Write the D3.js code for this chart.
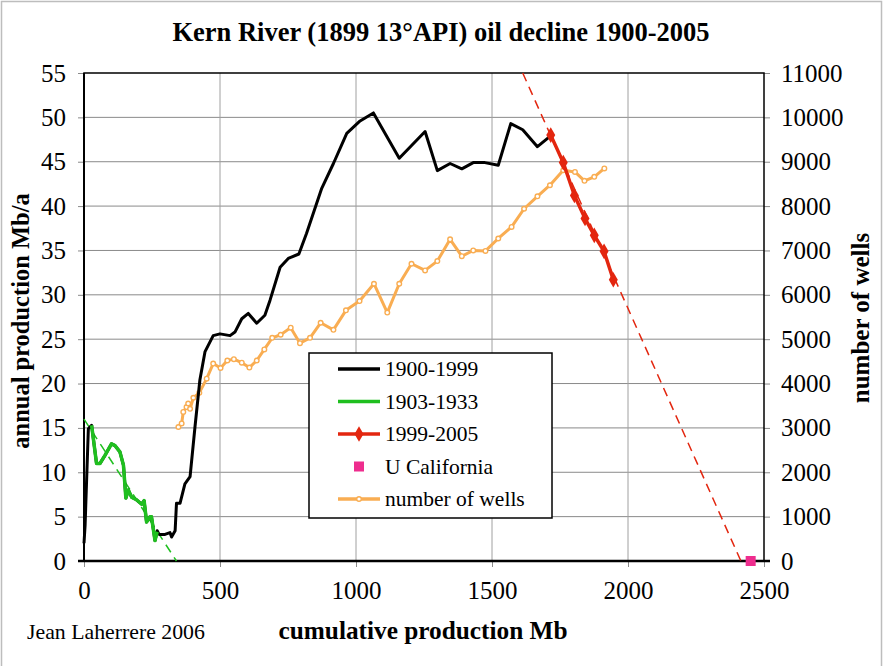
<!DOCTYPE html>
<html>
<head>
<meta charset="utf-8">
<script src="https://cdn.jsdelivr.net/npm/d3@7"></script>
<style>
body { margin: 0; background: #fff; }
svg { display: block; }
text { font-family: "Liberation Serif", "Times New Roman", serif; fill: #000; }
</style>
</head>
<body>
<svg id="chart" width="887" height="666"></svg>
<script>
// tick values
var xTicks = [0, 500, 1000, 1500, 2000, 2500];
var yTicks = [0, 5, 10, 15, 20, 25, 30, 35, 40, 45, 50, 55];
var wTicks = [0, 1000, 2000, 3000, 4000, 5000, 6000, 7000, 8000, 9000, 10000, 11000];

// [cumulative production Mb, annual production Mb/a]
var prod_1900_1999 = [[0, 2.0], [4, 4], [16, 14.9], [28, 15.3], [46, 11.0], [59, 11.0], [77, 11.9],
    [101, 13.2], [114, 13.0], [132, 12.3], [145, 10.8], [154, 7.1], [163, 8.0], [175, 7.2],
    [193, 6.9], [212, 6.4], [221, 6.8], [230, 4.4], [243, 5.0], [248, 5.0], [261, 2.3],
    [269, 3.4], [276, 3.0], [298, 3.0], [316, 3.2], [322, 2.7], [335, 3.4], [340, 6.5],
    [353, 6.5], [371, 8.7], [390, 9.5], [408, 15.1], [426, 20.4], [445, 23.6], [475, 25.4],
    [500, 25.6], [537, 25.4], [555, 25.8], [580, 27.3], [604, 27.9], [635, 26.8], [665, 27.7],
    [684, 29.4], [721, 33.1], [751, 34.1], [790, 34.6], [818, 36.9], [874, 42.0], [917, 44.8],
    [966, 48.2], [1015, 49.6], [1064, 50.5], [1159, 45.4], [1254, 48.4], [1299, 44.0],
    [1346, 44.8], [1389, 44.2], [1431, 44.9], [1474, 44.9], [1523, 44.6], [1569, 49.3],
    [1613, 48.6], [1667, 46.7], [1711, 47.8]];

var prod_1903_1933 = [[28, 15.3], [46, 11.0], [59, 11.0], [77, 11.9], [101, 13.2], [114, 13.0],
    [132, 12.3], [145, 10.8], [154, 7.1], [163, 8.0], [175, 7.2], [193, 6.9], [212, 6.4],
    [221, 6.8], [230, 4.4], [243, 5.0], [248, 5.0], [261, 2.3], [269, 3.3]];

var prod_1999_2005 = [[1716, 48.0], [1762, 44.9], [1803, 41.2], [1842, 38.6], [1876, 36.7],
    [1912, 34.9], [1946, 31.7]];

var trend_1903_1933 = [[0, 16], [340, 0]];
var trend_1999_2005 = [[1613, 55], [2415, 0]];
var u_california = [[2451, 0]];

// [cumulative production Mb, number of wells]
var wells = [[347, 3020], [359, 3100], [365, 3360], [377, 3470], [383, 3550], [390, 3430],
    [402, 3680], [424, 3790], [451, 4110], [475, 4450], [502, 4350], [527, 4520], [551, 4550],
    [580, 4470], [608, 4360], [635, 4520], [663, 4770], [692, 5030], [723, 5100], [760, 5260],
    [794, 4910], [831, 5030], [870, 5370], [917, 5210], [963, 5650], [1013, 5860], [1066, 6250],
    [1115, 5600], [1159, 6250], [1204, 6700], [1254, 6550], [1299, 6760], [1346, 7250],
    [1389, 6870], [1431, 7000], [1476, 6990], [1523, 7270], [1572, 7530], [1618, 7940],
    [1667, 8220], [1713, 8470], [1762, 8810], [1805, 8770], [1840, 8570], [1876, 8660],
    [1913, 8850]];

var legendNames = ["1900-1999", "1903-1933", "1999-2005", "U California", "number of wells"];

var black = "#000", green = "#1fbf1f", red = "#e3260f", orange = "#f9ad52", pink = "#ee2d8e";
var serif = "Liberation Serif, Times New Roman, serif";

var svg = d3.select("#chart");

var x = d3.scaleLinear().domain([0, 2500]).range([84, 764]),
    y = d3.scaleLinear().domain([0, 55]).range([561, 73]),
    y2 = d3.scaleLinear().domain([0, 11000]).range([561, 73]);

// outer frame of the picture
svg.append("rect")
    .attr("x", 1.5).attr("y", 1.5)
    .attr("width", 880).attr("height", 680)
    .attr("fill", "none")
    .attr("stroke", "#bdbdbd")
    .attr("stroke-width", 1.5);

// grid
svg.append("g").selectAll("line")
    .data(yTicks.slice(1, -1))
    .enter().append("line")
    .attr("x1", x(0)).attr("x2", x(2500))
    .attr("y1", function(d) { return y(d); })
    .attr("y2", function(d) { return y(d); })
    .attr("stroke", "#8a8a8a").attr("stroke-width", 1);

svg.append("g").selectAll("line")
    .data(xTicks.slice(1, -1))
    .enter().append("line")
    .attr("x1", function(d) { return x(d); })
    .attr("x2", function(d) { return x(d); })
    .attr("y1", y(55)).attr("y2", y(0))
    .attr("stroke", "#a0a0a0").attr("stroke-width", 1);

// axes
function styleAxis(g) {
    g.attr("font-family", serif).attr("font-size", 25);
    g.select(".domain").remove();
    g.selectAll(".tick line").attr("stroke", "#8a8a8a");
    g.selectAll(".tick text")
        .attr("font-family", serif)
        .style("font-family", serif)
        .attr("fill", "#000");
}

svg.append("g")
    .attr("transform", "translate(" + x(0) + ",0)")
    .call(d3.axisLeft(y).tickValues(yTicks).tickFormat(d3.format("d")).tickSize(6).tickPadding(12))
    .call(styleAxis);

svg.append("g")
    .attr("transform", "translate(" + x(2500) + ",0)")
    .call(d3.axisRight(y2).tickValues(wTicks).tickFormat(d3.format("d")).tickSize(6).tickPadding(11))
    .call(styleAxis);

svg.append("g")
    .attr("transform", "translate(0," + y(0) + ")")
    .call(d3.axisBottom(x).tickValues(xTicks).tickFormat(d3.format("d")).tickSize(6).tickPadding(14))
    .call(styleAxis);

// plot frame
svg.append("rect")
    .attr("x", x(0)).attr("y", y(55))
    .attr("width", x(2500) - x(0)).attr("height", y(0) - y(55))
    .attr("fill", "none").attr("stroke", "#000").attr("stroke-width", 1.5);
svg.append("line")
    .attr("x1", x(0)).attr("x2", x(0)).attr("y1", y(55)).attr("y2", y(0))
    .attr("stroke", "#000").attr("stroke-width", 2);
svg.append("line")
    .attr("x1", x(0) - 6).attr("x2", x(2500) + 6).attr("y1", y(0)).attr("y2", y(0))
    .attr("stroke", "#000").attr("stroke-width", 2.5);

var line = d3.line()
    .x(function(d) { return x(d[0]); })
    .y(function(d) { return y(d[1]); });
var lineW = d3.line()
    .x(function(d) { return x(d[0]); })
    .y(function(d) { return y2(d[1]); });

// trends
svg.append("path").datum(trend_1903_1933)
    .attr("d", line).attr("fill", "none")
    .attr("stroke", green).attr("stroke-width", 1.5).attr("stroke-dasharray", "9,6");
svg.append("path").datum(trend_1999_2005)
    .attr("d", line).attr("fill", "none")
    .attr("stroke", red).attr("stroke-width", 1.5).attr("stroke-dasharray", "9,6");

// wells
svg.append("path").datum(wells)
    .attr("d", lineW).attr("fill", "none")
    .attr("stroke", orange).attr("stroke-width", 3).attr("stroke-linejoin", "round");
svg.append("g").selectAll("circle")
    .data(wells)
    .enter().append("circle")
    .attr("cx", function(d) { return x(d[0]); })
    .attr("cy", function(d) { return y2(d[1]); })
    .attr("r", 2.3)
    .attr("fill", "#fff").attr("stroke", orange).attr("stroke-width", 1.4);

// production
svg.append("path").datum(prod_1900_1999)
    .attr("d", line).attr("fill", "none")
    .attr("stroke", black).attr("stroke-width", 3).attr("stroke-linejoin", "round");
svg.append("path").datum(prod_1903_1933)
    .attr("d", line).attr("fill", "none")
    .attr("stroke", green).attr("stroke-width", 3.5).attr("stroke-linejoin", "round");
svg.append("path").datum(prod_1999_2005)
    .attr("d", line).attr("fill", "none")
    .attr("stroke", red).attr("stroke-width", 3.5);
svg.append("g").selectAll("path")
    .data(prod_1999_2005)
    .enter().append("path")
    .attr("d", d3.symbol().type(d3.symbolDiamond).size(70))
    .attr("transform", function(d) { return "translate(" + x(d[0]) + "," + y(d[1]) + ")"; })
    .attr("fill", red);

svg.append("g").selectAll("rect")
    .data(u_california)
    .enter().append("rect")
    .attr("x", function(d) { return x(d[0]) - 5; })
    .attr("y", function(d) { return y(d[1]) - 5; })
    .attr("width", 10).attr("height", 10)
    .attr("fill", pink);

// legend
var legend = svg.append("g").attr("transform", "translate(309,353)");
legend.append("rect")
    .attr("width", 243).attr("height", 165)
    .attr("fill", "#fff").attr("stroke", "#000").attr("stroke-width", 1.5);

var rows = legend.selectAll("g.row")
    .data(legendNames)
    .enter().append("g")
    .attr("class", "row")
    .attr("transform", function(d, i) { return "translate(0," + (16 + i * 32.5) + ")"; });

rows.append("text")
    .attr("x", 76).attr("y", 7)
    .style("font-size", "21.5px")
    .text(function(d) { return d; });

rows.each(function(d, i) {
    var g = d3.select(this);
    if (i === 0 || i === 1 || i === 2 || i === 4) {
        g.append("line")
            .attr("x1", 29).attr("x2", 71).attr("y1", 0).attr("y2", 0)
            .attr("stroke", [black, green, red, null, orange][i])
            .attr("stroke-width", 3.5);
    }
    if (i === 2) {
        g.append("path")
            .attr("d", d3.symbol().type(d3.symbolDiamond).size(70))
            .attr("transform", "translate(50,0)")
            .attr("fill", red);
    }
    if (i === 3) {
        g.append("rect")
            .attr("x", 45).attr("y", -5).attr("width", 10).attr("height", 10)
            .attr("fill", pink);
    }
    if (i === 4) {
        g.append("circle")
            .attr("cx", 50).attr("cy", 0).attr("r", 2.3)
            .attr("fill", "#fff").attr("stroke", orange).attr("stroke-width", 1.4);
    }
});

// titles
svg.append("text")
    .attr("x", 441).attr("y", 41)
    .attr("text-anchor", "middle")
    .style("font-size", "26.5px").style("font-weight", "bold")
    .text("Kern River (1899 13°API) oil decline 1900-2005");

svg.append("text")
    .attr("x", 423).attr("y", 639)
    .attr("text-anchor", "middle")
    .style("font-size", "25.3px").style("font-weight", "bold")
    .text("cumulative production Mb");

svg.append("text")
    .attr("x", 27).attr("y", 639)
    .style("font-size", "21.8px")
    .text("Jean Laherrere 2006");

svg.append("text")
    .attr("transform", "translate(29,321) rotate(-90)")
    .attr("text-anchor", "middle")
    .style("font-size", "24.5px").style("font-weight", "bold")
    .text("annual production Mb/a");

svg.append("text")
    .attr("transform", "translate(869,318) rotate(-90)")
    .attr("text-anchor", "middle")
    .style("font-size", "25px").style("font-weight", "bold")
    .text("number of wells");
</script>
</body>
</html>
